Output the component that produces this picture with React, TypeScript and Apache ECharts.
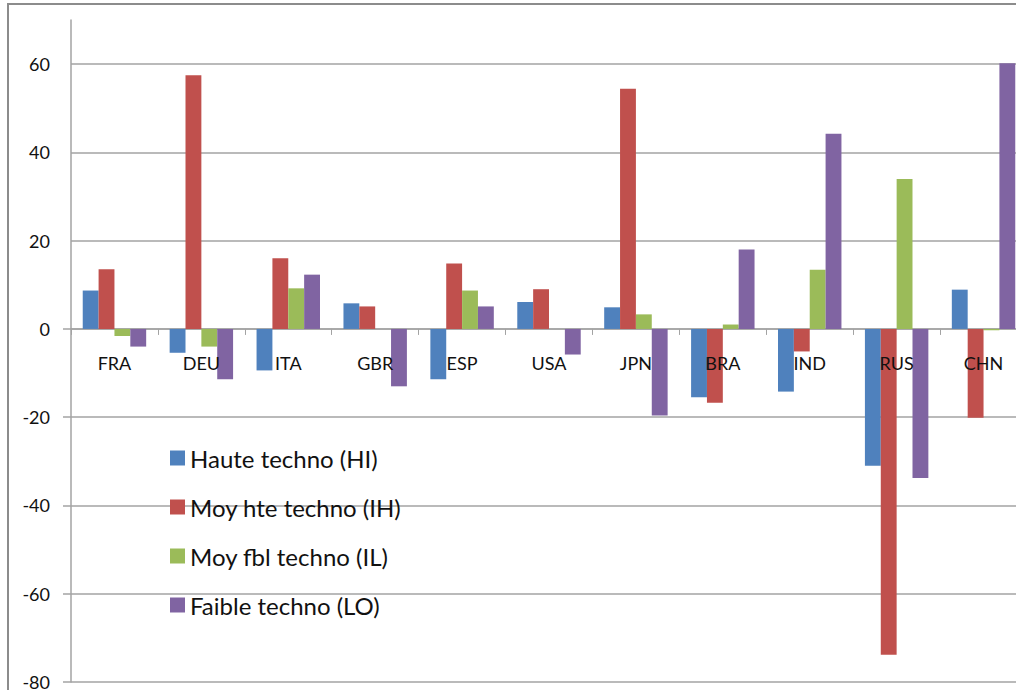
import React, { useEffect, useRef } from "react";
import * as echarts from "echarts";

const categories = ["FRA", "DEU", "ITA", "GBR", "ESP", "USA", "JPN", "BRA", "IND", "RUS", "CHN"];
const hauteTechno = [8.7, -5.4, -9.4, 5.8, -11.4, 6.1, 4.9, -15.5, -14.2, -31.0, 8.9];
const moyHteTechno = [13.5, 57.5, 16.0, 5.1, 14.8, 9.0, 54.4, -16.7, -5.1, -73.8, -20.1];
const moyFblTechno = [-1.6, -4.0, 9.2, 0, 8.7, 0, 3.3, 1.0, 13.4, 34.0, -0.3];
const faibleTechno = [-4.0, -11.4, 12.3, -13.0, 5.1, -5.8, -19.6, 18.0, 44.2, -33.8, 60.2];
const seriesNames = ["Haute techno (HI)", "Moy hte techno (IH)", "Moy fbl techno (IL)", "Faible techno (LO)"];
const seriesValues = [hauteTechno, moyHteTechno, moyFblTechno, faibleTechno];
const colors = ["#4F81BD", "#C0504D", "#9BBB59", "#8064A2"];
const yMin = -80;
const yMax = 70;
const yInterval = 20;

export default function App() {
  const ref = useRef<HTMLDivElement>(null);
  useEffect(() => {
    if (!ref.current) return;
    const chart = echarts.init(ref.current, undefined, { renderer: "svg" });
    const gridTop = 20;
    const gridBottom = 682;
    const gridLeft = 71;
    const gridRight = -11;
    const zeroY = gridTop + ((yMax - 0) / (yMax - yMin)) * (gridBottom - gridTop);
    const gridColor = "#a3a3a3";
    const font = "Lato";
    chart.setOption({
      animation: false,
      backgroundColor: "transparent",
      grid: [
        { left: gridLeft, right: gridRight, top: gridTop, height: gridBottom - gridTop, outerBoundsMode: "none", containLabel: false },
        { left: gridLeft, right: gridRight, top: zeroY, height: gridBottom - zeroY, outerBoundsMode: "none", containLabel: false },
      ],
      legend: {
        orient: "vertical",
        left: 170,
        top: 446,
        padding: 0,
        itemWidth: 15,
        itemHeight: 15,
        itemGap: 25,
        icon: "rect",
        selectedMode: false,
        data: seriesNames,
        textStyle: { fontFamily: font, fontSize: 24, color: "#111" },
      },
      xAxis: [
        {
          type: "category",
          gridIndex: 0,
          data: categories,
          axisLine: { show: true, onZero: true, lineStyle: { color: gridColor, width: 1.5 } },
          axisTick: { show: false },
          axisLabel: { show: false },
        },
        {
          type: "category",
          gridIndex: 1,
          data: categories,
          position: "top",
          z: 10,
          axisLine: { show: false },
          axisTick: { show: true, inside: true, length: 6, lineStyle: { color: gridColor, width: 1 } },
          axisLabel: { show: true, inside: true, margin: 25, fontFamily: font, fontSize: 18, color: "#111" },
          splitLine: { show: false },
        },
      ],
      yAxis: [
        {
          type: "value",
          gridIndex: 0,
          min: yMin,
          max: yMax,
          interval: yInterval,
          axisLine: { show: true, lineStyle: { color: gridColor, width: 1.5 } },
          axisTick: { show: false },
          axisLabel: { showMaxLabel: false, margin: 21, fontFamily: font, fontSize: 18, color: "#111" },
          splitLine: { show: true, showMaxLine: false, lineStyle: { color: gridColor, width: 1.5 } },
        },
        {
          type: "value",
          gridIndex: 1,
          min: yMin,
          max: 0,
          interval: yInterval,
          axisLine: { show: false },
          axisTick: { show: true, length: 8, lineStyle: { color: gridColor, width: 1.5 } },
          axisLabel: { show: false },
          splitLine: { show: false },
        },
      ],
      series: seriesNames.map((name, i) => ({
        name,
        type: "bar",
        xAxisIndex: 0,
        yAxisIndex: 0,
        data: seriesValues[i],
        barGap: "0%",
        barCategoryGap: "27%",
        itemStyle: { color: colors[i] },
      })),
    });
    return () => chart.dispose();
  }, []);
  return (
    <div style={{ position: "fixed", left: 0, top: 0, width: 1016, height: 690, overflow: "hidden", background: "#fff" }}>
      <div
        style={{
          position: "absolute",
          left: 7,
          top: 3,
          width: 1100,
          height: 800,
          borderLeft: "2px solid #8c8c8c",
          borderTop: "2px solid #8c8c8c",
        }}
      />
      <div ref={ref} style={{ position: "absolute", left: 0, top: 0, width: 1016, height: 690 }} />
    </div>
  );
}
